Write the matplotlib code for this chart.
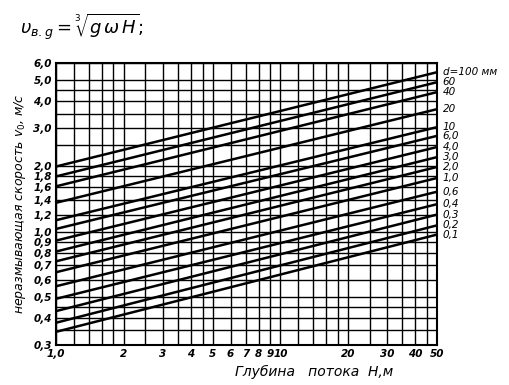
import matplotlib
matplotlib.use("Agg")
import matplotlib.pyplot as plt
import numpy as np

# Data
H_ends = [1.0, 50.0]
d_labels = ["d=100 мм", "60", "40", "20", "10", "6,0", "4,0", "3,0", "2,0",
            "1,0", "0,6", "0,4", "0,3", "0,2", "0,1"]
v_at_1 = [2.0, 1.80, 1.62, 1.36, 1.13, 1.03, 0.91, 0.81, 0.73,
          0.65, 0.56, 0.49, 0.43, 0.38, 0.345]
v_at_50 = [5.45, 4.9, 4.41, 3.68, 3.04, 2.77, 2.46, 2.21, 1.99,
           1.77, 1.53, 1.34, 1.20, 1.07, 0.97]

y_ticks = [0.3, 0.4, 0.5, 0.6, 0.7, 0.8, 0.9, 1.0, 1.2, 1.4, 1.6, 1.8,
           2.0, 3.0, 4.0, 5.0, 6.0]
y_ticklabels = ["0,3", "0,4", "0,5", "0,6", "0,7", "0,8", "0,9", "1,0", "1,2",
                "1,4", "1,6", "1,8", "2,0", "3,0", "4,0", "5,0", "6,0"]
y_minor = [0.35, 0.45, 2.5, 3.5, 4.5]
x_ticks = [1, 2, 3, 4, 5, 6, 7, 8, 9, 10, 20, 30, 40, 50]
x_ticklabels = ["1,0", "2", "3", "4", "5", "6", "7", "8", "9", "10",
                "20", "30", "40", "50"]
x_minor = [1.2, 1.4, 1.6, 1.8, 2.5, 3.5, 4.5, 12, 14, 16, 18, 25, 35, 45]

fig = plt.figure(figsize=(5.10, 3.85), dpi=100)
ax = fig.add_axes([0.110, 0.104, 0.747, 0.732])
ax.set_xscale("log")
ax.set_yscale("log")
ax.set_xlim(1, 50)
ax.set_ylim(0.3, 6.0)

for x in x_ticks + x_minor:
    ax.axvline(x, color="black", lw=1.0, zorder=1)
for y in y_ticks + y_minor:
    ax.axhline(y, color="black", lw=1.0, zorder=1)

for v1, v2 in zip(v_at_1, v_at_50):
    ax.plot(H_ends, [v1, v2], color="black", lw=1.8, zorder=3,
            solid_capstyle="butt")

for lab, v2 in zip(d_labels, v_at_50):
    ax.text(1.015, v2, lab, transform=ax.get_yaxis_transform(),
            ha="left", va="center", fontsize=7.5, style="italic")

ax.xaxis.set_minor_locator(matplotlib.ticker.NullLocator())
ax.yaxis.set_minor_locator(matplotlib.ticker.NullLocator())
ax.set_xticks(x_ticks)
ax.set_xticklabels(x_ticklabels, fontsize=7.5, style="italic",
                   fontweight="bold")
ax.set_yticks(y_ticks)
ax.set_yticklabels(y_ticklabels, fontsize=7.5, style="italic",
                   fontweight="bold")
ax.tick_params(length=0, pad=3)
for s in ax.spines.values():
    s.set_linewidth(1.5)

ax.set_ylabel("неразмывающая скорость $v_0$, м/с", fontsize=9,
              style="italic", labelpad=4)
fig.text(0.46, 0.035, "Глубина   потока  Н,м", fontsize=10,
         style="italic", ha="left", va="center")
fig.text(0.04, 0.93, r"$\upsilon_{в.g}=\sqrt[3]{g\,\omega\, H}$;",
         fontsize=13, ha="left", va="center")

fig.savefig("out.png", dpi=100)
